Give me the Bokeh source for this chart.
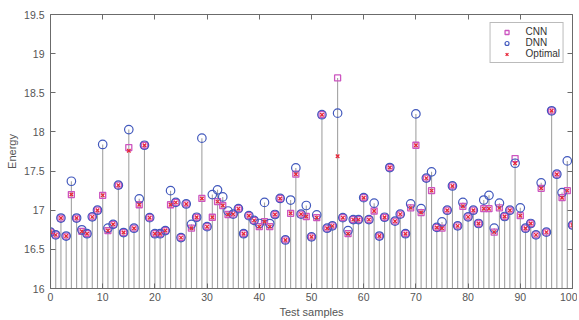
from bokeh.plotting import figure
from bokeh.models import LinearAxis, FixedTicker, Range1d, ColumnDataSource, Legend, LegendItem
from bokeh.embed import file_html
from bokeh.resources import INLINE

samples = list(range(101))
dnn = [16.72, 16.685, 16.90, 16.67, 17.37, 16.90, 16.75, 16.70, 16.915, 17.00,
       17.84, 16.77, 16.82, 17.32, 16.715, 18.03, 16.77, 17.145, 17.83, 16.905,
       16.70, 16.70, 16.74, 17.25, 17.10, 16.65, 17.08, 16.82, 16.91, 17.92,
       16.79, 17.20, 17.26, 17.17, 16.99, 16.95, 17.02, 16.70, 16.93, 16.87,
       16.83, 17.10, 16.83, 16.945, 17.15, 16.62, 17.13, 17.54, 16.95, 17.06,
       16.66, 16.94, 18.22, 16.77, 16.80, 18.24, 16.905, 16.74, 16.88, 16.88,
       17.16, 16.88, 17.09, 16.67, 16.91, 17.545, 16.86, 16.95, 16.70, 17.08,
       18.23, 17.02, 17.41, 17.49, 16.78, 16.85, 17.00, 17.31, 16.80, 17.10,
       16.915, 17.00, 16.83, 17.13, 17.19, 16.77, 17.09, 16.92, 17.00, 17.60,
       17.03, 16.77, 16.83, 16.685, 17.35, 16.72, 18.27, 17.46, 17.225, 17.63,
       16.81]
cnn = [16.72, 16.685, 16.90, 16.67, 17.20, 16.90, 16.73, 16.70, 16.915, 17.00,
       17.19, 16.74, 16.82, 17.32, 16.715, 17.80, 16.77, 17.07, 17.83, 16.905,
       16.70, 16.70, 16.74, 17.07, 17.10, 16.65, 17.08, 16.77, 16.91, 17.15,
       16.79, 16.91, 17.11, 17.06, 16.945, 16.95, 17.02, 16.70, 16.93, 16.87,
       16.79, 16.855, 16.79, 16.945, 17.15, 16.62, 16.96, 17.46, 16.95, 16.92,
       16.66, 16.905, 18.22, 16.77, 16.80, 18.69, 16.905, 16.70, 16.88, 16.88,
       17.16, 16.88, 16.99, 16.67, 16.91, 17.545, 16.86, 16.95, 16.70, 17.03,
       17.83, 16.97, 17.41, 17.25, 16.78, 16.77, 17.00, 17.31, 16.80, 17.05,
       16.915, 17.00, 16.83, 17.02, 17.02, 16.72, 17.03, 16.92, 17.00, 17.66,
       16.93, 16.77, 16.83, 16.685, 17.28, 16.72, 18.27, 17.46, 17.16, 17.25,
       16.81]
optimal = list(cnn)
optimal[15] = 17.76
optimal[55] = 17.69
optimal[89] = 17.60

xticks = [0, 10, 20, 30, 40, 50, 60, 70, 80, 90, 100]
yticks = [16, 16.5, 17, 17.5, 18, 18.5, 19, 19.5]
ytick_labels = ["16", "16.5", "17", "17.5", "18", "18.5", "19", "19.5"]

FONT = "Liberation Sans"
AX = "#6b6b6b"
TXT = "#555555"

stem_top = [max(a, b, c) for a, b, c in zip(dnn, cnn, optimal)]
src = ColumnDataSource(dict(x=samples, dnn=dnn, cnn=cnn, opt=optimal,
                            top=stem_top, base=[16] * len(samples)))

p = figure(width=577, height=320, output_backend="svg", toolbar_location=None,
           x_range=Range1d(0, 100), y_range=Range1d(16, 19.5),
           min_border_left=50, min_border_right=5, min_border_top=14, min_border_bottom=32)
p.xgrid.visible = False
p.ygrid.visible = False
p.outline_line_color = None
p.background_fill_color = "white"

p.segment(x0="x", y0="base", x1="x", y1="top", source=src, line_color="#a3a3a3", line_width=1.1)
r_cnn = p.scatter("x", "cnn", source=src, marker="square", size=6, fill_color=None,
                  line_color="#cc55c0", line_width=1.3)
r_dnn = p.scatter("x", "dnn", source=src, marker="circle", size=8.5, fill_color=None,
                  line_color="#4259bd", line_width=1.2)
r_opt = p.scatter("x", "opt", source=src, marker="x", size=5, line_color="#e8283a", line_width=1.3)

def style(ax, labels=True):
    ax.axis_line_color = AX
    ax.major_tick_line_color = AX
    ax.minor_tick_line_color = None
    ax.major_tick_in = 5
    ax.major_tick_out = 0
    ax.major_label_text_font = FONT
    ax.major_label_text_font_size = "10.5px"
    ax.major_label_text_color = TXT
    ax.axis_label_text_font = FONT
    ax.axis_label_text_font_size = "11px"
    ax.axis_label_text_color = TXT
    ax.axis_label_text_font_style = "normal"
    if not labels:
        ax.major_label_text_font_size = "0px"
        ax.major_label_text_color = None

xa = p.xaxis[0]
xa.ticker = FixedTicker(ticks=xticks)
xa.axis_label = "Test samples"
xa.axis_label_standoff = 2
xa.major_label_standoff = 4
style(xa)

ya = p.yaxis[0]
ya.ticker = FixedTicker(ticks=yticks)
ya.major_label_overrides = {t: l for t, l in zip(yticks, ytick_labels)}
ya.axis_label = "Energy"
ya.axis_label_standoff = 3
ya.major_label_standoff = 6
style(ya)

top_ax = LinearAxis(ticker=FixedTicker(ticks=xticks))
style(top_ax, labels=False)
p.add_layout(top_ax, "above")
right_ax = LinearAxis(ticker=FixedTicker(ticks=yticks))
style(right_ax, labels=False)
p.add_layout(right_ax, "right")

legend = Legend(items=[LegendItem(label="CNN", renderers=[r_cnn]),
                       LegendItem(label="DNN", renderers=[r_dnn]),
                       LegendItem(label="Optimal", renderers=[r_opt])],
                location="top_right")
legend.margin = 8
legend.padding = 3
legend.spacing = 0
legend.label_text_font = FONT
legend.label_text_font_size = "10px"
legend.label_text_color = "#333333"
legend.label_height = 10
legend.glyph_height = 10
legend.glyph_width = 26
legend.label_standoff = 6
legend.border_line_color = "#777777"
legend.border_line_width = 1
legend.background_fill_alpha = 1
p.add_layout(legend)

open("out.html", "w").write(file_html(p, INLINE))
